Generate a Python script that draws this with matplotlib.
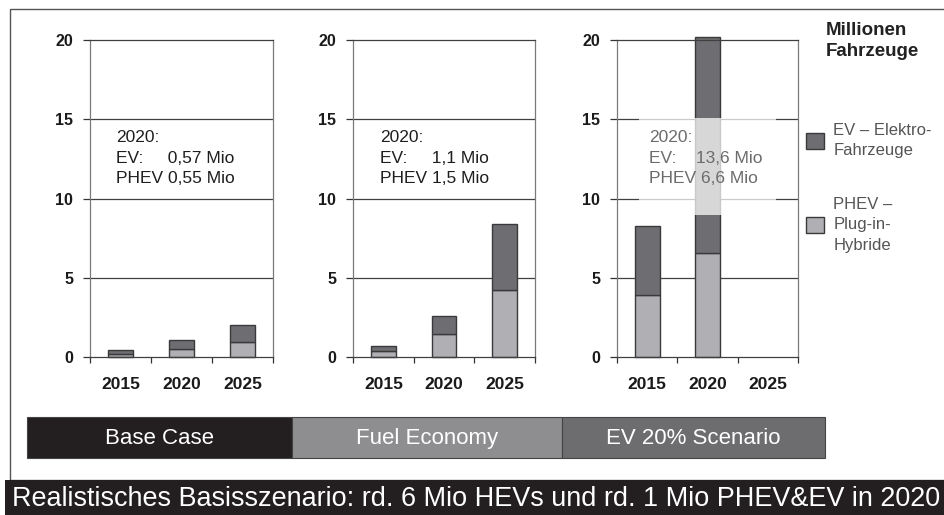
import numpy as np
import matplotlib
matplotlib.use("Agg")
import matplotlib.pyplot as plt
from matplotlib.patches import Rectangle

plt.rcParams['font.family'] = ['Liberation Sans', 'DejaVu Sans']

# ---------------- data ----------------
years = ['2015', '2020', '2025']
scenarios = ['Base Case', 'Fuel Economy', 'EV 20% Scenario']
phev_base = [0.19, 0.55, 0.97]
ev_base = [0.30, 0.57, 1.08]
phev_fuel = [0.38, 1.50, 4.22]
ev_fuel = [0.36, 1.10, 4.18]
phev_ev20 = [3.90, 6.60, np.nan]
ev_ev20 = [4.35, 13.60, np.nan]
yticks = [0, 5, 10, 15, 20]
notes = [
    ['2020:', 'EV:     0,57 Mio', 'PHEV 0,55 Mio'],
    ['2020:', 'EV:     1,1 Mio', 'PHEV 1,5 Mio'],
    ['2020:', 'EV:    13,6 Mio', 'PHEV 6,6 Mio'],
]
unit_label = 'Millionen\nFahrzeuge'
legend_labels = ['EV – Elektro-\nFahrzeuge', 'PHEV –\nPlug-in-\nHybride']
banner = 'Realistisches Basisszenario: rd. 6 Mio HEVs und rd. 1 Mio PHEV&EV in 2020'

phev_all = [phev_base, phev_fuel, phev_ev20]
ev_all = [ev_base, ev_fuel, ev_ev20]

# ---------------- styling ----------------
W, H = 945, 515
DARK = '#6e6e72'
LIGHT = '#b0b0b4'
EDGE = '#3a3a3a'
GRID = '#404040'
band_colors = ['#231f20', '#8e8e91', '#6d6d70']

fig = plt.figure(figsize=(W / 100, H / 100), dpi=100)
fig.patch.set_facecolor('white')


def fx(px):
    return px / W


def fy(py):
    return 1 - py / H


# overlay for frame, scenario band, banner
ov = fig.add_axes([0, 0, 1, 1], zorder=0)
ov.set_xlim(0, W)
ov.set_ylim(H, 0)
ov.axis('off')
ov.add_patch(Rectangle((10, 9), 960, 471, fill=False, ec='#555555', lw=1.0))
band_x = [26.7, 291.7, 562, 825]
for i, name in enumerate(scenarios):
    ov.add_patch(Rectangle((band_x[i], 416.7), band_x[i + 1] - band_x[i], 41.6,
                           fc=band_colors[i], ec='#444444', lw=0.8))
    ov.text((band_x[i] + band_x[i + 1]) / 2, 438.5, name, color='white',
            fontsize=16, ha='center', va='center')
ov.add_patch(Rectangle((5, 480), 960, 40, fc='#231f20', ec='none'))
bt = ov.text(476, 498.5, banner, color='white', fontsize=16, ha='center', va='center')
fig.canvas.draw()
r = fig.canvas.get_renderer()
wpx = bt.get_window_extent(r).width
bt.set_fontsize(16 * 928 / wpx)

# ---------------- panels ----------------
lefts = [90, 353, 617]
rights = [273, 535, 798]
top, bottom = 40, 357.3
x = np.arange(len(years))
bw = 0.41
handles = None
for k in range(3):
    ax = fig.add_axes([fx(lefts[k]), fy(bottom), fx(rights[k] - lefts[k]), (bottom - top) / H],
                      zorder=2)
    ax.set_facecolor('none')
    ph = np.array(phev_all[k], dtype=float)
    ev = np.array(ev_all[k], dtype=float)
    m = ~np.isnan(ph)
    b1 = ax.bar(x[m], ph[m], width=bw, color=LIGHT, edgecolor=EDGE, lw=1.0, zorder=2,
                clip_on=False)
    b2 = ax.bar(x[m], ev[m], bottom=ph[m], width=bw, color=DARK, edgecolor=EDGE, lw=1.0,
                zorder=2, clip_on=False)
    if handles is None:
        handles = [b2, b1]
    ax.set_xlim(-0.5, 2.5)
    ax.set_ylim(0, 20)
    ax.set_yticks(yticks)
    ax.set_yticklabels([str(v) for v in yticks], fontsize=11.5, fontweight='bold', color='#1a1a1a')
    ax.set_xticks(x)
    ax.set_xticklabels(years, fontsize=12.5, fontweight='bold', color='#1a1a1a')
    ax.set_xticks([-0.5, 0.5, 1.5, 2.5], minor=True)
    ax.tick_params(axis='x', which='major', length=0, pad=14.5)
    ax.tick_params(axis='x', which='minor', length=4.5, width=0.9, color='#333333', direction='out')
    ax.tick_params(axis='y', length=5, width=0.9, color='#333333', direction='out', pad=7)
    for yv in yticks[1:-1]:
        ax.axhline(yv, color=GRID, lw=0.9, zorder=1)
    ax.spines['top'].set_color(GRID)
    ax.spines['bottom'].set_color(GRID)
    ax.spines['left'].set_color('#7a7a7a')
    ax.spines['right'].set_color('#7a7a7a')
    for s in ax.spines.values():
        s.set_linewidth(0.9)
    tcolor = '#1e1e1e'
    tx = [-0.074, -0.057, 0.036][k]
    if k == 2:
        ax.add_patch(Rectangle((-0.135, 9.0), 2.272, 6.1, fc='white', ec='none',
                               alpha=0.73, zorder=3))
        tcolor = '#6c6c6c'
    for line, yb in zip(notes[k], [13.6, 12.24, 10.98]):
        ax.text(tx, yb, line, fontsize=12.5, color=tcolor, va='baseline', ha='left', zorder=4)

fig.text(fx(826), fy(22), unit_label, fontsize=13.5, fontweight='bold', color='#222222',
         ha='left', va='top', linespacing=1.3)

leg = fig.legend(handles, legend_labels, loc='upper left', bbox_to_anchor=(fx(806), fy(123)),
                 frameon=False, fontsize=12, handlelength=1.1, handleheight=1.1,
                 handletextpad=0.55, labelspacing=2.3, labelcolor='#555555',
                 borderaxespad=0, borderpad=0)
for t in leg.get_texts():
    t.set_linespacing(1.45)

fig.savefig('out.png', dpi=100, facecolor='white')
